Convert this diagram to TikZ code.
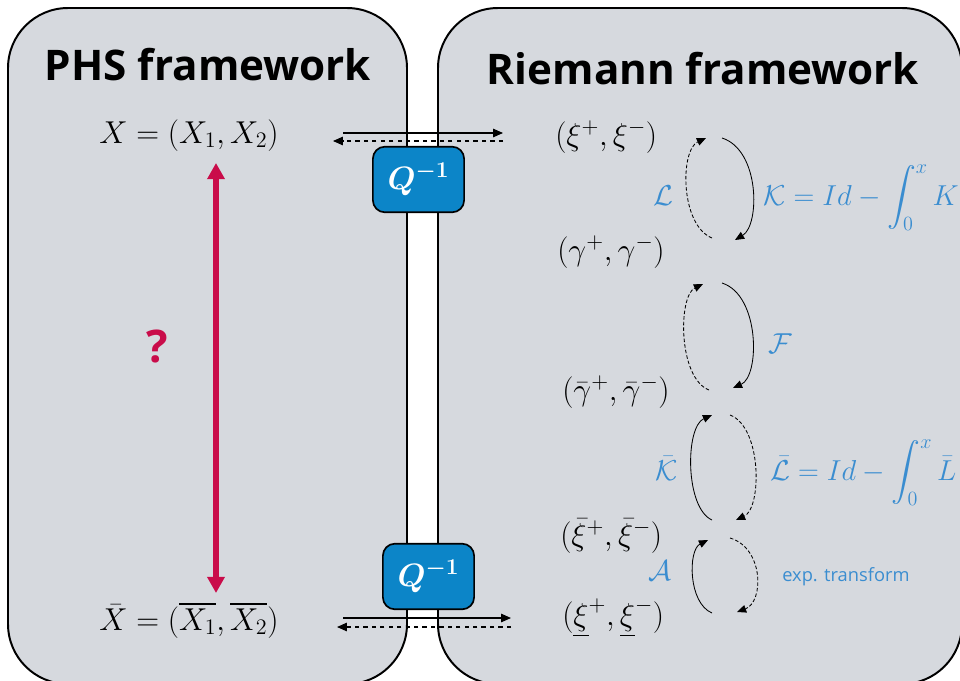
\RequirePackage{fix-cm}
\documentclass[tikz,border=0pt]{standalone}
\usepackage{amsmath,amssymb}
\usepackage{fontspec}
\usepackage{tikz}
\usetikzlibrary{arrows.meta}
\newfontfamily\labelfont{Open Sans}
\definecolor{panelgray}{RGB}{214,217,222}
\definecolor{qblue}{RGB}{12,133,200}
\definecolor{mapblue}{RGB}{58,141,208}
\definecolor{askred}{RGB}{201,12,74}
\tikzset{
  panel/.style={
    draw=black,
    line width=1.4pt,
    fill=panelgray,
    rounded corners=1.5cm
  },
  frame title/.style={
    font=\labelfont\bfseries\fontsize{30}{36}\selectfont,
    inner sep=0pt
  },
  pair/.style={
    font=\fontsize{22.5}{27}\selectfont,
    inner sep=0pt
  },
  map label/.style={
    font=\fontsize{20.5}{24}\selectfont,
    inner sep=0pt,
    text=mapblue
  },
  qbox/.style={
    draw=black,
    line width=1.2pt,
    fill=qblue,
    rounded corners=0.3cm,
    minimum width=2.28cm,
    minimum height=1.64cm,
    text=white,
    font=\fontsize{23}{27}\selectfont
  },
  fwd/.style={
    -{Triangle[length=7pt,width=6pt]},
    line width=0.8pt
  },
  bwd/.style={fwd, dashed},
  loop fwd/.style={
    -{Triangle[length=6.5pt,width=5.5pt]},
    line width=0.6pt
  },
  loop bwd/.style={loop fwd, dash pattern=on 2.5pt off 1.5pt},
  ask/.style={
    {Triangle[length=11.5pt,width=12pt]}-{Triangle[length=11.5pt,width=12pt]},
    draw=askred,
    line width=4.2pt
  }
}

\begin{document}
\begin{tikzpicture}[x=0.025cm, y=-0.025cm]
  \useasboundingbox (0,0) rectangle (960,680);

  % Frameworks
  \draw[panel] (8,8) rectangle (407,684);
  \draw[panel] (438,8) rectangle (962,684);
  \node[frame title, anchor=base] (phs) at (208,80) {PHS framework};
  \node[frame title, anchor=base] (riem) at (703,84) {Riemann framework};

  % PHS variables
  \node[pair, anchor=base] (x) at (189,143) {$X = (X_1, X_2)$};
  \node[pair, anchor=base] (xbar) at (189,630) {$\bar{X} = (\overline{X_1}, \overline{X_2})$};
  \coordinate (asktop) at (216,163);
  \coordinate (askbot) at (216,593);
  \draw[ask] (asktop) -- (askbot);
  \node[text=askred, font=\labelfont\bfseries\fontsize{32}{38}\selectfont, inner sep=0pt] (q) at (157,346) {?};

  % Riemann variables
  \node[pair, anchor=base west] (xi) at (555,145) {$(\xi^+, \xi^-)$};
  \node[pair, anchor=base west] (gam) at (557,260) {$(\gamma^+, \gamma^-)$};
  \node[pair, anchor=base west] (gambar) at (562,400) {$(\bar{\gamma}^+, \bar{\gamma}^-)$};
  \node[pair, anchor=base west] (xibar) at (560,545) {$(\bar{\xi}^+, \bar{\xi}^-)$};
  \node[pair, anchor=base west] (xiund) at (562,625) {$(\underline{\xi}^+, \underline{\xi}^-)$};

  % Change of variables
  \node[qbox] (qtop) at (418.5,179.5) {$\boldsymbol{Q^{-1}}$};
  \node[qbox] (qbot) at (428.5,576.5) {$\boldsymbol{Q^{-1}}$};
  \coordinate (ta) at (343,133);
  \coordinate (tb) at (503,133);
  \coordinate (tc) at (503,141);
  \coordinate (td) at (333,141);
  \draw[fwd] (ta) -- (tb);
  \draw[bwd] (tc) -- (td);
  \coordinate (ba) at (343,618);
  \coordinate (bb) at (511,618);
  \coordinate (bc) at (511,627);
  \coordinate (bd) at (337,627);
  \draw[fwd] (ba) -- (bb);
  \draw[bwd] (bc) -- (bd);

  % Loop xi <-> gamma
  \coordinate (l1a) at (712,238);
  \coordinate (l1b) at (706,138);
  \coordinate (l1c) at (722,138);
  \coordinate (l1d) at (735,240);
  \draw[loop bwd] (l1a) .. controls (680,225) and (680,150) .. (l1b);
  \draw[loop fwd] (l1c) .. controls (760,150) and (760,225) .. (l1d);
  \node[map label, anchor=base east] (opl) at (674,205) {$\mathcal{L}$};
  \node[map label, anchor=base west] (opk) at (763,205) {$\mathcal{K} = Id - \displaystyle\int_0^x K$};

  % Loop gamma <-> gamma bar
  \coordinate (l2a) at (709,390);
  \coordinate (l2b) at (703,284);
  \coordinate (l2c) at (722,283);
  \coordinate (l2d) at (733,388);
  \draw[loop bwd] (l2a) .. controls (678,378) and (678,296) .. (l2b);
  \draw[loop fwd] (l2c) .. controls (760,295) and (760,376) .. (l2d);
  \node[map label, anchor=base west] (opf) at (768,353) {$\mathcal{F}$};

  % Loop gamma bar <-> xi bar
  \coordinate (l3a) at (712,520);
  \coordinate (l3b) at (712,415);
  \coordinate (l3c) at (730,415);
  \coordinate (l3d) at (736,520);
  \draw[loop fwd] (l3a) .. controls (685,508) and (685,427) .. (l3b);
  \draw[loop bwd] (l3c) .. controls (762,427) and (762,508) .. (l3d);
  \node[map label, anchor=base east] (opkb) at (678,480) {$\bar{\mathcal{K}}$};
  \node[map label, anchor=base west] (oplb) at (770,480) {$\bar{\mathcal{L}} = Id - \displaystyle\int_0^x \bar{L}$};

  % Loop xi bar <-> underlined xi
  \coordinate (l4a) at (712,613);
  \coordinate (l4b) at (708,540);
  \coordinate (l4c) at (730,538);
  \coordinate (l4d) at (737,612);
  \draw[loop fwd] (l4a) .. controls (688,603) and (688,550) .. (l4b);
  \draw[loop bwd] (l4c) .. controls (764,548) and (764,602) .. (l4d);
  \node[map label, anchor=base east] (opa) at (672,580) {$\mathcal{A}$};
  \node[text=mapblue, font=\labelfont\fontsize{13}{16}\selectfont, inner sep=0pt, anchor=base west] (expt) at (782,581) {exp. transform};

\end{tikzpicture}
\end{document}
